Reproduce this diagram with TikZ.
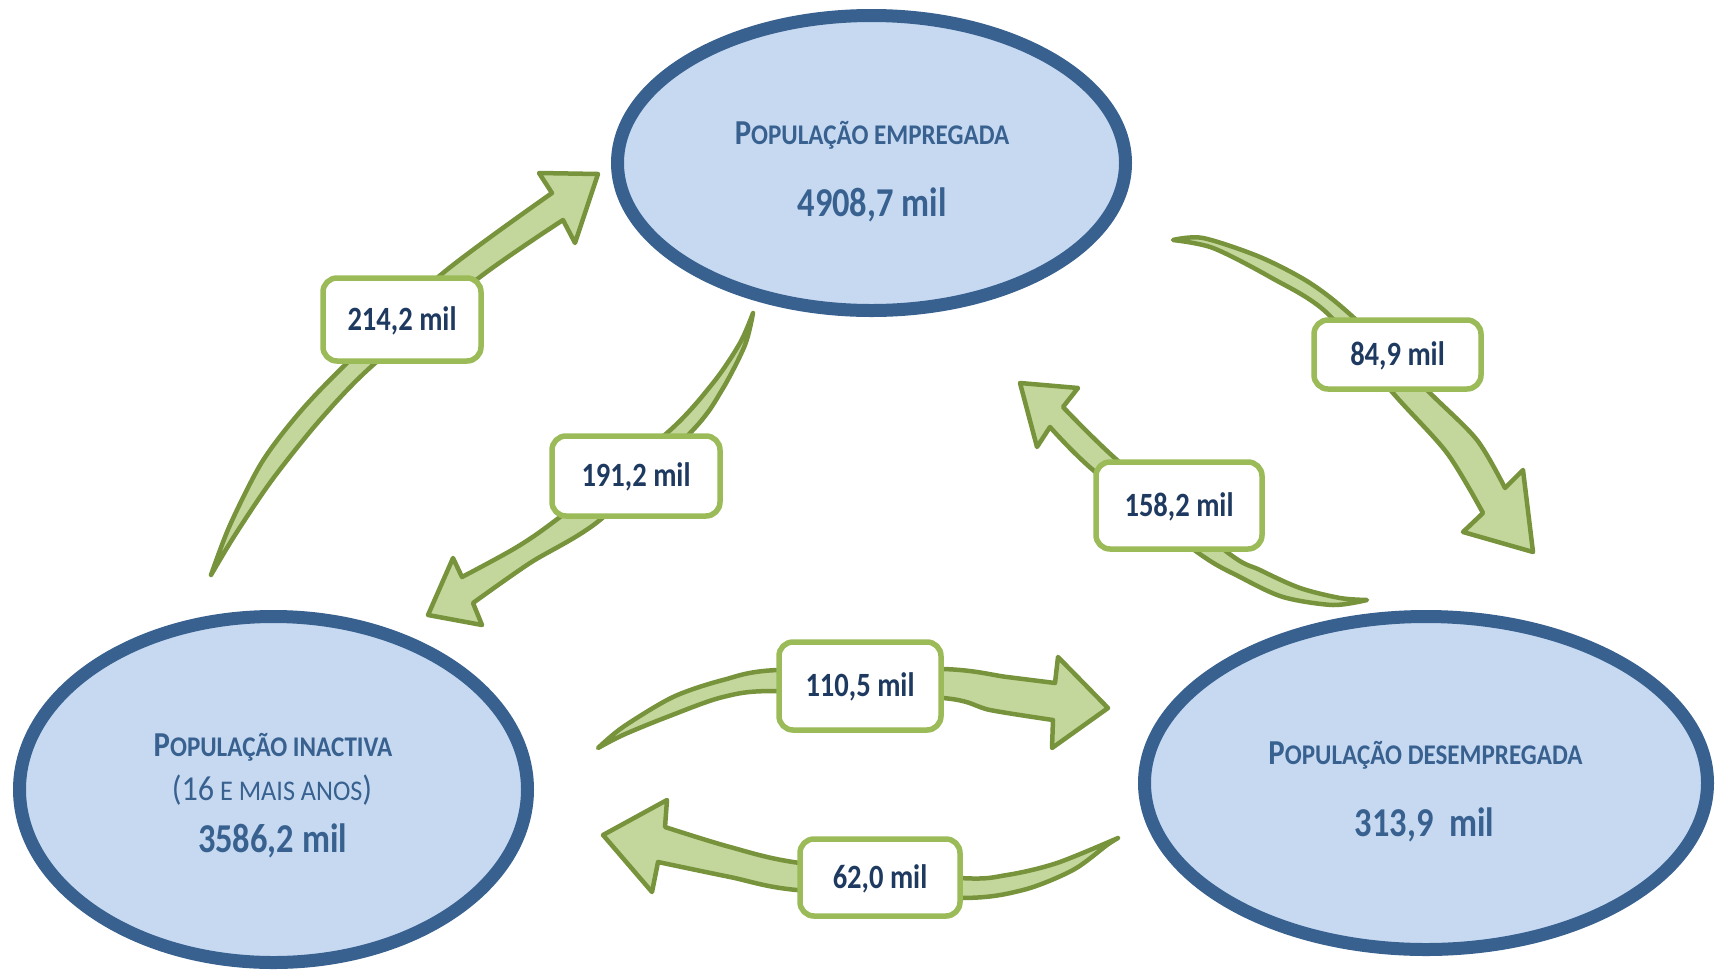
\documentclass[tikz,border=0pt]{standalone}
\usepackage{fontspec}
\setmainfont{Carlito}
\usepackage{graphicx}
\usetikzlibrary{shapes.geometric}
\definecolor{ellblue}{HTML}{386190}
\definecolor{ellfill}{HTML}{C6D9F1}
\definecolor{ttblue}{HTML}{386190}
\definecolor{lblnavy}{HTML}{1F3A60}
\definecolor{boxgreen}{HTML}{9BBB59}
\definecolor{arrfill}{HTML}{C3D69B}
\definecolor{arrline}{HTML}{77933C}
\newcommand\myLg[1]{{\fontsize{35}{42}\selectfont #1}}
\newcommand\mySm[1]{{\fontsize{28.5}{34}\selectfont #1}}
\newcommand\sqz[1]{\scalebox{0.84}[1]{#1}}
\newcommand\sqzh[1]{\scalebox{0.88}[1]{#1}}
\newcommand\sqzr[1]{\scalebox{0.92}[1]{#1}}
\begin{document}
\begin{tikzpicture}[x=1pt,y=-1pt,
 popell/.style={ellipse, draw=ellblue, fill=ellfill, line width=13pt, inner sep=0pt},
 poptxt/.style={anchor=base, text=ttblue, inner sep=0pt, font=\bfseries},
 popnum/.style={anchor=base, text=ttblue, inner sep=0pt, font=\bfseries\fontsize{41}{48}\selectfont},
 flowbox/.style={draw=boxgreen, fill=white, line width=5.5pt, rounded corners=14pt, inner sep=0pt, text=lblnavy, font=\bfseries\fontsize{34}{40}\selectfont, text height=21.5pt, text depth=0pt},
 flowarrow/.style={fill=arrfill, draw=arrline, line width=4.5pt, line join=round}]
\useasboundingbox (0,0) rectangle (1719,970);

% population ellipses
\node[popell, minimum width=508pt, minimum height=295pt] (emp) at (871.5,163) {};
\node[popell, minimum width=508pt, minimum height=346pt] (ina) at (273.5,789.5) {};
\node[popell, minimum width=563pt, minimum height=333pt] (des) at (1426,783) {};

\node[poptxt] (empT) at (872,144) {\sqzh{\myLg{P}\mySm{OPULAÇÃO EMPREGADA}}};
\node[popnum] (empN) at (872,216) {\sqz{4908,7 mil}};
\node[poptxt] (inaT) at (273,756) {\sqzh{\myLg{P}\mySm{OPULAÇÃO INACTIVA}}};
\node[poptxt, font=\mdseries] (inaA) at (272,800) {\sqzr{\myLg{(16}\mySm{ E MAIS ANOS}\myLg{)}}};
\node[popnum] (inaN) at (272.5,852) {\sqz{3586,2 mil}};
\node[poptxt] (desT) at (1425.5,764) {\sqzh{\myLg{P}\mySm{OPULAÇÃO DESEMPREGADA}}};
\node[popnum] (desN) at (1424.5,836) {\sqz{313,9~~mil}};

% curved arrows
% inactiva -> empregada
\filldraw[flowarrow] plot[smooth] coordinates {(211,575) (230,525) (262,462) (300,412) (347,363) (443,273) (552,193)}
  -- (539,173) -- (598,174) -- (575,243)
  -- plot[smooth] coordinates {(563,220) (480,277) (373,365) (320,420) (272,480) (235,535) (211,575)} -- cycle;
% empregada -> inactiva
\filldraw[flowarrow] plot[smooth] coordinates {(753,313) (740,343) (713,383) (667,433) (560,517) (517,547) (462,577)}
  -- (453,558) -- (428,615) -- (482,625)
  -- plot[smooth] coordinates {(473,603) (530,563) (600,520) (693,430) (722,390) (745,345) (753,313)} -- cycle;
% empregada -> desempregada
\filldraw[flowarrow] plot[smooth] coordinates {(1173,240) (1203,238) (1260,257) (1310,283) (1353,317) (1430,393) (1477,440) (1505,488)}
  -- (1523,470) -- (1533,552) -- (1463,532)
  -- plot[smooth] coordinates {(1483,513) (1447,453) (1393,393) (1327,313) (1270,277) (1213,248) (1173,240)} -- cycle;
% desempregada -> empregada
\filldraw[flowarrow] plot[smooth] coordinates {(1367,600) (1333,605) (1283,597) (1240,577) (1197,552) (1093,470) (1050,427)}
  -- (1037,447) -- (1020,383) -- (1078,388)
  -- plot[smooth] coordinates {(1063,407) (1117,460) (1227,552) (1260,570) (1300,588) (1340,598) (1367,600)} -- cycle;
% inactiva -> desempregada
\filldraw[flowarrow] plot[smooth] coordinates {(598,748) (623,727) (673,697) (723,680) (777,670) (943,669) (1007,677) (1055,683)}
  -- (1058,657) -- (1108,708) -- (1052,748)
  -- plot[smooth] coordinates {(1053,720) (990,710) (943,698) (777,691) (723,697) (667,717) (623,735) (598,748)} -- cycle;
% desempregada -> inactiva
\filldraw[flowarrow] plot[smooth] coordinates {(1118,838) (1057,863) (1007,875) (960,878) (800,863) (730,847) (665,827)}
  -- (667,800) -- (603,835) -- (652,892)
  -- plot[smooth] coordinates {(658,862) (730,877) (797,890) (960,898) (1023,890) (1073,870) (1107,845) (1118,838)} -- cycle;

% flow labels
\node[flowbox, minimum width=158pt, minimum height=83pt] (f1) at (402,319.5) {\sqz{214,2 mil}};
\node[flowbox, minimum width=168pt, minimum height=80pt] (f2) at (636,476) {\sqz{191,2 mil}};
\node[flowbox, minimum width=167pt, minimum height=69pt] (f3) at (1397.5,354.5) {\sqz{84,9 mil}};
\node[flowbox, minimum width=166pt, minimum height=87pt] (f4) at (1179,505.5) {\sqz{158,2 mil}};
\node[flowbox, minimum width=162pt, minimum height=88pt] (f5) at (860,686) {\sqz{110,5 mil}};
\node[flowbox, minimum width=160pt, minimum height=77pt] (f6) at (880,877.5) {\sqz{62,0 mil}};
\end{tikzpicture}
\end{document}
